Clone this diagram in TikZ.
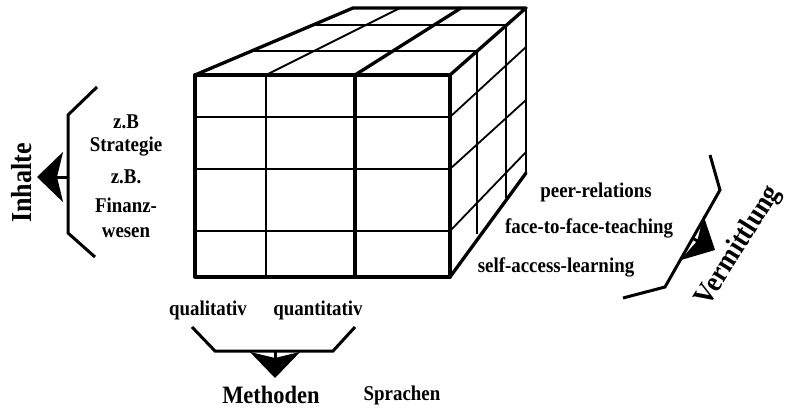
\documentclass[tikz,border=0pt]{standalone}
\usepackage{fontspec}
\setmainfont[FakeStretch=0.9]{Liberation Serif}
\usetikzlibrary{arrows.meta}

\begin{document}
\begin{tikzpicture}[x=1pt,y=-1pt,
  bold edge/.style={line width=3.3pt, line cap=round, line join=round},
  mid edge/.style={line width=2.2pt},
  thin edge/.style={line width=1.8pt},
  bracket/.style={line width=3pt, line join=miter},
  pointer/.style={line width=3pt, -{Stealth[length=26pt,width=50pt,inset=6pt]}},
  lbl/.style={font=\fontsize{21}{23}\selectfont\bfseries, inner sep=0pt},
  dimlbl/.style={font=\fontsize{29}{31}\selectfont\bfseries, inner sep=0pt}]
\useasboundingbox (0,0) rectangle (789,409);

% cube corners
\coordinate (ftl) at (195,75);
\coordinate (ftr) at (450,75);
\coordinate (fbl) at (195,277);
\coordinate (fbr) at (450,277);
\coordinate (btl) at (353,8);
\coordinate (btr) at (526,8);
\coordinate (bbr) at (526,173);

% front face grid
\draw[thin edge] (266,75) -- (266,277);
\draw[thin edge] (195,117) -- (450,117);
\draw[thin edge] (195,169) -- (450,169);
\draw[thin edge] (195,231) -- (450,231);
% top face grid
\draw[thin edge] (266,75) -- (400,8);
\draw[thin edge] (252,51) -- (477,51);
\draw[thin edge] (313,25) -- (506,25);
% right face grid
\draw[thin edge] (477,51) -- (477,234);
\draw[thin edge] (506,25) -- (506,198);
\draw[thin edge] (450,117) -- (526,47);
\draw[thin edge] (450,169) -- (526,100);
\draw[thin edge] (450,231) -- (526,152);
\draw[mid edge] (btr) -- (bbr);
% outer edges
\draw[bold edge] (ftl) rectangle (fbr);
\draw[bold edge] (355,75) -- (355,277);
\draw[bold edge] (355,75) -- (461,8);
\draw[bold edge] (ftl) -- (btl) -- (btr) -- (ftr);
\draw[bold edge] (fbr) -- (bbr);

% Inhalte
\coordinate (i1) at (97,87);
\coordinate (i2) at (68,115);
\coordinate (i3) at (68,233);
\coordinate (i4) at (95,257);
\coordinate (imid) at (68,177);
\coordinate (itip) at (37,177);
\draw[bracket] (i1) -- (i2) -- (i3) -- (i4);
\draw[pointer] (imid) -- (itip);
\node[dimlbl, rotate=90] (inhalte) at (22,183) {Inhalte};
\node[lbl] (zb) at (126,122) {z.B};
\node[lbl] (strategie) at (126,147) {Strategie};
\node[lbl] (zbb) at (126,177) {z.B.};
\node[lbl] (finanz) at (126,205) {Finanz-};
\node[lbl] (wesen) at (126,233) {wesen};

% Methoden
\coordinate (m1) at (192,327);
\coordinate (m2) at (215,351);
\coordinate (m3) at (333,351);
\coordinate (m4) at (355,327);
\coordinate (mmid) at (275,350);
\coordinate (mtip) at (275,378);
\draw[bracket] (m1) -- (m2) -- (m3) -- (m4);
\draw[pointer] (mmid) -- (mtip);
\node[lbl] (quali) at (208,310) {qualitativ};
\node[lbl] (quanti) at (318,310) {quantitativ};
\node[lbl, font=\fontsize{25}{27}\selectfont\bfseries] (methoden) at (271,395) {Methoden};
\node[lbl] (sprachen) at (402,395) {Sprachen};

% Vermittlung
\coordinate (v1) at (710,155);
\coordinate (v2) at (720,190);
\coordinate (v3) at (665,287);
\coordinate (v4) at (623,298);
\coordinate (vmid) at (692,238);
\coordinate (vtip) at (715,250);
\draw[bracket] (v1) -- (v2) -- (v3) -- (v4);
\draw[pointer] (vmid) -- (vtip);
\node[dimlbl, rotate=58] (vermittlung) at (739,246) {Vermittlung};
\node[lbl] (peer) at (596,192) {peer-relations};
\node[lbl] (face) at (589,228) {face-to-face-teaching};
\node[lbl] (self) at (556,267) {self-access-learning};
\end{tikzpicture}
\end{document}
